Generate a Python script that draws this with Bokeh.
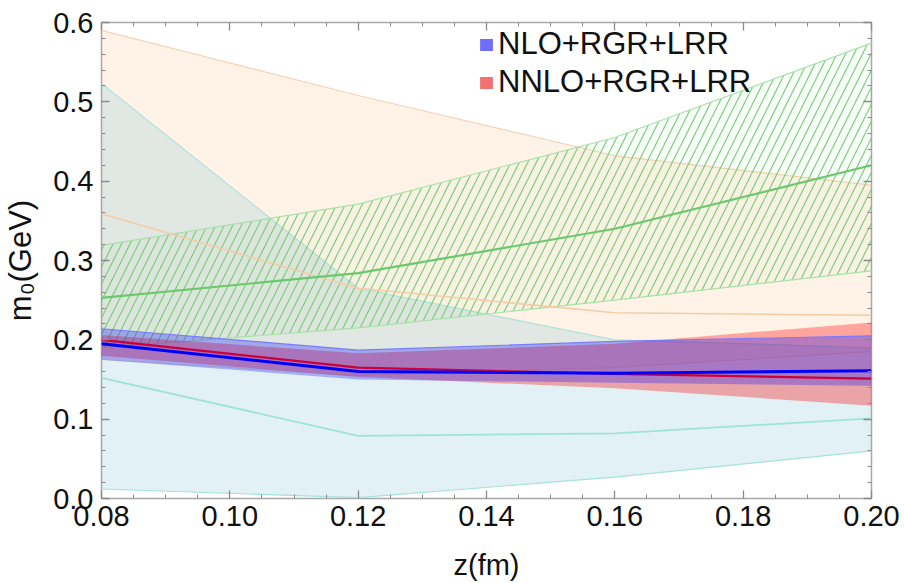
from bokeh.plotting import figure
from bokeh.models import (LinearAxis, FixedTicker, PrintfTickFormatter, Range1d,
                          Legend, LegendItem)
from bokeh.embed import file_html
from bokeh.resources import INLINE

# ---------------- data ----------------
z = [0.08, 0.12, 0.16, 0.20]

orange_lo = [0.175, 0.155, 0.165, 0.185]
orange_c = [0.359, 0.265, 0.234, 0.231]
orange_hi = [0.590, 0.508, 0.432, 0.395]

teal_lo = [0.012, 0.001, 0.027, 0.060]
teal_c = [0.152, 0.079, 0.082, 0.101]
teal_hi = [0.523, 0.265, 0.200, 0.190]

green_lo = [0.190, 0.215, 0.250, 0.287]
green_c = [0.253, 0.284, 0.340, 0.420]
green_hi = [0.319, 0.371, 0.455, 0.574]

nnlo_lo = [0.180, 0.153, 0.139, 0.117]
nnlo_c = [0.200, 0.165, 0.157, 0.151]
nnlo_hi = [0.206, 0.183, 0.195, 0.222]

nlo_lo = [0.175, 0.150, 0.146, 0.142]
nlo_c = [0.195, 0.160, 0.158, 0.161]
nlo_hi = [0.214, 0.187, 0.198, 0.205]

legend_labels = ["NLO+RGR+LRR", "NNLO+RGR+LRR"]

x_major = [0.08, 0.10, 0.12, 0.14, 0.16, 0.18, 0.20]
y_major = [0.0, 0.1, 0.2, 0.3, 0.4, 0.5, 0.6]
x_minor = [round(0.08 + 0.005 * i, 4) for i in range(25)]
y_minor = [round(0.02 * i, 4) for i in range(31)]

FONT = "Liberation Sans"

p = figure(width=904, height=583, output_backend="svg", toolbar_location=None,
           x_range=Range1d(0.08, 0.20), y_range=Range1d(0.0, 0.6),
           min_border_left=100, min_border_right=33, min_border_top=22, min_border_bottom=85,
           background_fill_color="white", border_fill_color="white")
p.grid.visible = False
p.outline_line_color = "#a8a8a8"
p.outline_line_width = 1.5

# bands
p.varea(x=z, y1=orange_lo, y2=orange_hi, fill_color="#ff9a40", fill_alpha=0.12)
p.line(z, orange_hi, line_color="#f8d2b4", line_width=1.2)
p.line(z, orange_lo, line_color="#f8dcc4", line_width=1.0)

p.varea(x=z, y1=teal_lo, y2=teal_hi, fill_color="#5ab4c8", fill_alpha=0.18)
p.line(z, teal_hi, line_color="#b0e2dc", line_width=1.2)
p.line(z, teal_lo, line_color="#a6e2da", line_width=1.2)

p.varea(x=z, y1=green_lo, y2=green_hi, fill_color="#40c040", fill_alpha=0.03,
        hatch_pattern="/", hatch_color="#74cc74", hatch_alpha=0.95, hatch_scale=17, hatch_weight=1.2)
p.line(z, green_hi, line_color="#a8e2a8", line_width=1.2)
p.line(z, green_lo, line_color="#a8e2a8", line_width=1.2)

# center lines of the other bands
p.line(z, orange_c, line_color="#f5cca6", line_width=1.5)
p.line(z, teal_c, line_color="#a0e2d8", line_width=1.8)
p.line(z, green_c, line_color="#6cc86c", line_width=2.2)

# NNLO / NLO bands
p.varea(x=z, y1=nnlo_lo, y2=nnlo_hi, fill_color="#ff0000", fill_alpha=0.32)
p.varea(x=z, y1=nlo_lo, y2=nlo_hi, fill_color="#2020ff", fill_alpha=0.32)
p.line(z, nlo_hi, line_color="#7a7aff", line_width=1.2)
p.line(z, nnlo_c, line_color="#c8003c", line_width=2.3)
p.line(z, nlo_c, line_color="#0000ff", line_width=3)

# legend swatches (zero-height areas on the central curves)
r_nlo = p.varea(x=z, y1=nlo_c, y2=nlo_c, fill_color="#6f6fff", fill_alpha=1.0)
r_nnlo = p.varea(x=z, y1=nnlo_c, y2=nnlo_c, fill_color="#f27272", fill_alpha=1.0)
legend = Legend(items=[LegendItem(label=legend_labels[0], renderers=[r_nlo]),
                       LegendItem(label=legend_labels[1], renderers=[r_nnlo])],
                location=(377, 398), padding=0, margin=0, spacing=2,
                glyph_width=16, glyph_height=15, label_standoff=4,
                label_text_font=FONT, label_text_font_size="31px", label_text_color="#111111",
                border_line_color=None, background_fill_alpha=0.0)
p.add_layout(legend, "center")

# axes
def style_axis(ax, show_labels=True):
    ax.axis_line_color = None
    ax.major_tick_in = 8
    ax.major_tick_out = 0
    ax.minor_tick_in = 4
    ax.minor_tick_out = 0
    ax.major_tick_line_color = "#8a8a8a"
    ax.minor_tick_line_color = "#8a8a8a"
    ax.major_tick_line_width = 1.3
    ax.minor_tick_line_width = 1.0
    ax.major_label_text_font = FONT
    ax.major_label_text_font_size = "29px" if show_labels else "0px"
    ax.major_label_text_color = "#111111" if show_labels else None
    ax.axis_label_text_font = FONT
    ax.axis_label_text_font_size = "29px"
    ax.axis_label_text_font_style = "normal"
    ax.axis_label_text_color = "#111111"
    if not show_labels:
        ax.major_label_standoff = 0
        ax.axis_label_standoff = 0

xa = p.xaxis[0]
xa.ticker = FixedTicker(ticks=x_major, minor_ticks=x_minor)
xa.formatter = PrintfTickFormatter(format="%.2f")
xa.axis_label = "z(fm)"
style_axis(xa)
xa.major_label_standoff = 7
xa.axis_label_standoff = 20

ya = p.yaxis[0]
ya.ticker = FixedTicker(ticks=y_major, minor_ticks=y_minor)
ya.formatter = PrintfTickFormatter(format="%.1f")
ya.axis_label = "m\u2080(GeV)"
style_axis(ya)
ya.axis_label_text_font_size = "31px"
ya.major_label_standoff = 8
ya.axis_label_standoff = 12

top = LinearAxis(ticker=FixedTicker(ticks=x_major, minor_ticks=x_minor))
style_axis(top, show_labels=False)
p.add_layout(top, "above")
right = LinearAxis(ticker=FixedTicker(ticks=y_major, minor_ticks=y_minor))
style_axis(right, show_labels=False)
p.add_layout(right, "right")

open("out.html", "w").write(file_html(p, INLINE))
